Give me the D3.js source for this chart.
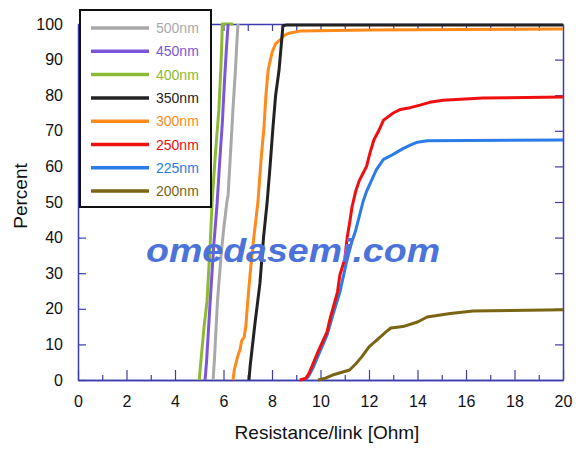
<!DOCTYPE html>
<html>
<head>
<meta charset="utf-8">
<script src="https://cdn.jsdelivr.net/npm/d3@7"></script>
<style>
  body { margin: 0; background: #fff; }
  svg text { font-family: "Liberation Sans", Arial, sans-serif; }
</style>
</head>
<body>
<svg id="chart" width="581" height="449"></svg>
<script>
// cumulative % vs resistance per link
var labels = ["500nm", "450nm", "400nm", "350nm", "300nm", "250nm", "225nm", "200nm"];
var colors = ["#a9a9a9", "#7c56da", "#8dba34", "#222222", "#ff8a1c", "#ee1010", "#2a7ce8", "#7a6514"];

var res500 = [[5.57,0],[5.62,5],[5.75,22],[5.9,35],[6.0,42],[6.14,50],[6.19,52],[6.3,65],[6.39,76],[6.5,88],[6.56,96],[6.6,100]];
var res450 = [[5.24,0],[5.3,5],[5.45,22],[5.6,38],[5.73,49],[5.85,62],[5.95,72],[5.98,76],[6.05,85],[6.12,93],[6.19,100]];
var res400 = [[5.0,0],[5.05,4],[5.2,15],[5.32,22],[5.45,38],[5.53,50],[5.65,62],[5.81,76],[5.9,89],[5.94,97],[5.95,100],[6.4,100]];
var res350 = [[7.05,0],[7.1,4],[7.3,16],[7.5,27],[7.65,40],[7.8,50],[7.92,60],[8.04,71],[8.15,80],[8.29,87],[8.38,94],[8.45,99.5],[8.6,99.7],[20,99.7]];
var res300 = [[6.39,0],[6.45,3],[6.6,7],[6.68,8.4],[6.75,11],[6.85,12],[6.92,15],[7.0,22],[7.1,30],[7.25,40],[7.42,50],[7.55,62],[7.67,71],[7.75,80],[7.84,87],[8.0,92],[8.15,94.5],[8.33,95.5],[8.5,96.8],[8.74,97.5],[9.15,98],[12,98.3],[20,98.6]];
var res250 = [[9.15,0],[9.4,0.5],[9.55,2.2],[9.9,8],[10.1,11],[10.27,13.5],[10.4,17.4],[10.55,21],[10.7,24.7],[10.8,29.5],[11.0,34],[11.1,40],[11.2,44],[11.3,48.6],[11.45,53],[11.6,56],[11.75,58],[11.9,60],[12.05,64],[12.2,67.4],[12.4,70],[12.6,73],[13.0,75],[13.3,76],[13.7,76.5],[14.1,77.2],[14.5,78],[15.05,78.6],[16.7,79.2],[20,79.5]];
var res225 = [[9.36,0],[9.5,1],[9.7,3.5],[10.0,8.4],[10.27,12.6],[10.5,18],[10.8,24.7],[11.1,34],[11.3,39],[11.45,42],[11.75,50],[11.9,53],[12.1,56],[12.3,59],[12.6,62],[12.9,63],[13.15,64],[13.4,65],[13.7,66],[14.0,66.8],[14.4,67.2],[20,67.4]];
var res200 = [[9.9,0],[10.2,0.5],[10.5,1.4],[11.2,2.8],[11.45,4.5],[11.7,6.5],[12.0,9.3],[12.2,10.5],[12.45,12],[12.7,13.5],[12.9,14.6],[13.4,15],[14.0,16.3],[14.4,17.7],[15.35,18.7],[16.3,19.4],[17.8,19.5],[20,19.7]];

var xTicks = [0, 2, 4, 6, 8, 10, 12, 14, 16, 18, 20];
var yTicks = [0, 10, 20, 30, 40, 50, 60, 70, 80, 90, 100];

var allSeries = [res500, res450, res400, res350, res300, res250, res225, res200];

var axisColor = "#3c3cac";
var svg = d3.select("#chart");
var x = d3.scaleLinear().domain([0, 20]).range([78, 563]);
var y = d3.scaleLinear().domain([0, 100]).range([380, 24]);

function styleAxis(g) {
    g.select(".domain").attr("stroke", axisColor).attr("stroke-width", 1.5);
    g.selectAll(".tick line").attr("stroke", axisColor).attr("stroke-width", 1.2);
    g.selectAll(".tick text").attr("fill", "#111").style("font-size", "16px");
}

// minor ticks every 1 Ohm on the bottom, all integers on top
svg.append("g")
    .attr("transform", "translate(0,380)")
    .call(d3.axisBottom(x).tickValues(d3.range(1, 20, 2)).tickSizeInner(-5).tickSizeOuter(0).tickFormat(""))
    .call(styleAxis);
svg.append("g")
    .attr("transform", "translate(0,380)")
    .call(d3.axisBottom(x).tickValues(xTicks).tickSizeInner(-10).tickSizeOuter(0).tickPadding(16))
    .call(styleAxis);
svg.append("g")
    .attr("transform", "translate(0,24)")
    .call(d3.axisTop(x).tickValues(d3.range(1, 20)).tickSizeInner(-7).tickSizeOuter(0).tickFormat(""))
    .call(styleAxis);
svg.append("g")
    .attr("transform", "translate(78,0)")
    .call(d3.axisLeft(y).tickValues(yTicks).tickSizeInner(-8).tickSizeOuter(0).tickPadding(15))
    .call(styleAxis);
svg.append("g")
    .attr("transform", "translate(563,0)")
    .call(d3.axisRight(y).tickValues(yTicks.slice(1, 10)).tickSizeInner(-8).tickSizeOuter(0).tickFormat(""))
    .call(styleAxis);

svg.append("text")
    .attr("x", 327).attr("y", 439)
    .attr("text-anchor", "middle")
    .style("font-size", "19px")
    .attr("fill", "#111")
    .text("Resistance/link [Ohm]");
svg.append("text")
    .attr("transform", "translate(27,196) rotate(-90)")
    .attr("text-anchor", "middle")
    .style("font-size", "19px")
    .attr("fill", "#111")
    .text("Percent");

var line = d3.line()
    .x(function(d) { return x(d[0]); })
    .y(function(d) { return y(d[1]); });

// draw back to front so the steep group ends up on top like the original
svg.append("g").selectAll("path")
    .data(allSeries.map(function(s, i) { return {pts: s, color: colors[i]}; }).reverse())
    .enter().append("path")
    .attr("d", function(d) { return line(d.pts); })
    .attr("fill", "none")
    .attr("stroke", function(d) { return d.color; })
    .attr("stroke-width", 3)
    .attr("stroke-linejoin", "round");

// legend box
var legend = svg.append("g");
legend.append("rect")
    .attr("x", 80).attr("y", 10)
    .attr("width", 131).attr("height", 197)
    .attr("fill", "#fff")
    .attr("stroke", "#111")
    .attr("stroke-width", 2);
var rows = legend.selectAll("g.row")
    .data(labels)
    .enter().append("g")
    .attr("class", "row")
    .attr("transform", function(d, i) { return "translate(0," + (28 + i * 23.3) + ")"; });
rows.append("line")
    .attr("x1", 91).attr("x2", 149)
    .attr("stroke", function(d, i) { return colors[i]; })
    .attr("stroke-width", 3.5);
rows.append("text")
    .attr("x", 156).attr("dy", "0.36em")
    .style("font-size", "14px")
    .attr("fill", function(d, i) { return colors[i]; })
    .text(function(d) { return d; });

// watermark
svg.append("text")
    .attr("x", 146).attr("y", 262)
    .attr("textLength", 294)
    .attr("lengthAdjust", "spacingAndGlyphs")
    .style("font-size", "33px")
    .style("font-weight", "bold")
    .style("font-style", "italic")
    .attr("fill", "#4b73d9")
    .text("omedasemi.com");
</script>
</body>
</html>
